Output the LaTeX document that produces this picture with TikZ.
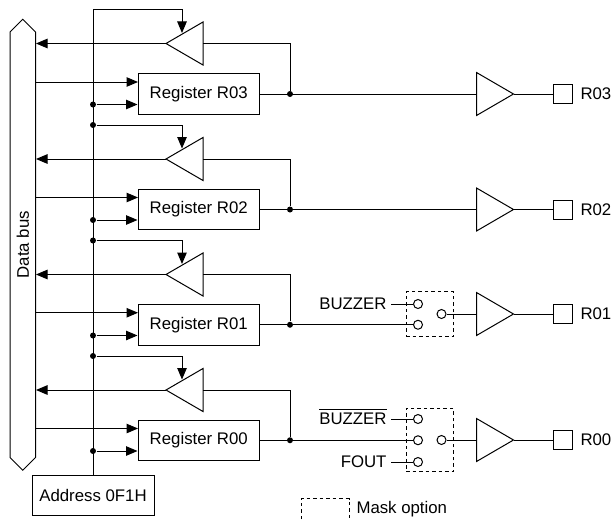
\documentclass[tikz,border=0pt]{standalone}
\usepackage{fontspec}
\setmainfont{Liberation Sans}
\usetikzlibrary{arrows.meta,shapes.geometric,shapes.symbols}
\begin{document}
\begin{tikzpicture}[x=1pt,y=-1pt,line width=1pt,>={Triangle[length=11.5pt,width=9.5pt]},
		every node/.style={font=\fontsize{16.8}{20}\selectfont},
		reg/.style={draw,minimum width=121.5pt,minimum height=40.5pt,inner sep=0pt},
		buf/.style={draw,isosceles triangle,isosceles triangle stretches,inner sep=0pt,outer sep=0pt,minimum width=43pt,minimum height=37pt},
		dot/.style={fill,circle,inner sep=0pt,minimum size=6pt},
		sw/.style={draw,circle,inner sep=0pt,minimum size=9pt},
		pad/.style={draw,inner sep=0pt,minimum size=19pt},
		lab/.style={inner ysep=0pt,inner xsep=4pt,anchor=east},
		txt/.style={inner sep=0pt,anchor=west},
		mask/.style={draw,dash pattern=on 3.5pt off 3pt,inner sep=0pt}]
	\useasboundingbox (0,0) rectangle (612,519);

	\node [draw,signal,signal to=east and west,signal pointer angle=90,rotate=90,minimum width=451pt,minimum height=25.5pt,inner sep=0pt] (bus) at (22.75,244.75) {Data bus};
	\node [draw,minimum width=122pt,minimum height=40.5pt,inner sep=0pt] (addr) at (93,495.25) {Address 0F1H};
	\coordinate (top) at (93,9.5);

	% registers
	\node [reg] (R3) at (198.75,94) {Register R03};
	\node [reg] (R2) at (198.75,209.5) {Register R02};
	\node [reg] (R1) at (198.75,324.75) {Register R01};
	\node [reg] (R0) at (198.75,440.25) {Register R00};

	% read buffers
	\node [buf,shape border rotate=180,anchor=apex] (B3) at (166,43.5) {};
	\node [buf,shape border rotate=180,anchor=apex] (B2) at (166,159) {};
	\node [buf,shape border rotate=180,anchor=apex] (B1) at (166,274.5) {};
	\node [buf,shape border rotate=180,anchor=apex] (B0) at (166,390) {};

	% output buffers
	\node [buf,anchor=apex] (Q3) at (513.5,94) {};
	\node [buf,anchor=apex] (Q2) at (513.5,209.5) {};
	\node [buf,anchor=apex] (Q1) at (513.5,314) {};
	\node [buf,anchor=apex] (Q0) at (513.5,440) {};

	% output pads
	\node [pad] (P3) at (562.5,94) {};
	\node [pad] (P2) at (562.5,209.5) {};
	\node [pad] (P1) at (562.5,314) {};
	\node [pad] (P0) at (562.5,440) {};
	\node [txt] (L3) at (580,94) {R03};
	\node [txt] (L2) at (580,209.5) {R02};
	\node [txt] (L1) at (580,314) {R01};
	\node [txt] (L0) at (580,440) {R00};

	% junctions
	\node [dot] (Wd3) at (93,104.5) {};
	\node [dot] (Wd2) at (93,220) {};
	\node [dot] (Wd1) at (93,335.5) {};
	\node [dot] (Wd0) at (93,451) {};
	\node [dot] (En2) at (93,125) {};
	\node [dot] (En1) at (93,240.5) {};
	\node [dot] (En0) at (93,356) {};
	\node [dot] (Out3) at (290,94) {};
	\node [dot] (Out2) at (290,209.5) {};
	\node [dot] (Out1) at (290,324.75) {};
	\node [dot] (Out0) at (290,440.25) {};

	% register and buffer pins
	\coordinate (Wr3) at (138,82);
	\coordinate (Wr2) at (138,197.5);
	\coordinate (Wr1) at (138,312.75);
	\coordinate (Wr0) at (138,428.5);
	\coordinate (Gt3) at (182,33);
	\coordinate (Gt2) at (182,148.5);
	\coordinate (Gt1) at (182,264);
	\coordinate (Gt0) at (182,379.5);

	% mask option switches
	\node [mask,minimum width=47pt,minimum height=45pt] (M1) at (429.5,314.25) {};
	\node [mask,minimum width=47pt,minimum height=63.5pt] (M0) at (429.5,440) {};
	\node [sw] (S1a) at (418,304) {};
	\node [sw] (S1b) at (418,324.75) {};
	\node [sw] (S1c) at (441.5,314) {};
	\node [sw] (S0a) at (418,419) {};
	\node [sw] (S0b) at (418,440.25) {};
	\node [sw] (S0d) at (418,462) {};
	\node [sw] (S0c) at (441.5,440) {};
	\node [lab] (Bz) at (391,304) {BUZZER};
	\node [lab,anchor=base east] (Bn) at (391,424.6) {$\overline{\mbox{BUZZER}\rule{0pt}{14.5pt}}$};
	\node [lab] (Fo) at (391,462) {FOUT};

	% key
	\draw [dash pattern=on 3.5pt off 3pt] (301,519) -- (301,498.7) -- (349,498.7) -- (349,519);
	\node [txt] (Key) at (356,509) {Mask option};

	\draw (top) -- (addr.north);
	\draw [->] (top) -| (Gt3);
	\draw [->] (En2) -| (Gt2);
	\draw [->] (En1) -| (Gt1);
	\draw [->] (En0) -| (Gt0);

	\path [->] (B3.apex) edge (bus.south |- B3.apex);
	\path [->] (B2.apex) edge (bus.south |- B2.apex);
	\path [->] (B1.apex) edge (bus.south |- B1.apex);
	\path [->] (B0.apex) edge (bus.south |- B0.apex);

	\path [->] (bus.south |- Wr3) edge (Wr3);
	\path [->] (bus.south |- Wr2) edge (Wr2);
	\path [->] (bus.south |- Wr1) edge (Wr1);
	\path [->] (bus.south |- Wr0) edge (Wr0);

	\path [->] (Wd3) edge (Wd3 -| R3.west);
	\path [->] (Wd2) edge (Wd2 -| R2.west);
	\path [->] (Wd1) edge (Wd1 -| R1.west);
	\path [->] (Wd0) edge (Wd0 -| R0.west);

	\draw (B3.lower side) -| (Out3);
	\draw (B2.lower side) -| (Out2);
	\draw (B1.lower side) -| (Out1);
	\draw (B0.lower side) -| (Out0);

	\draw (R3.east) -- (Q3.lower side);
	\draw (R2.east) -- (Q2.lower side);
	\draw (R1.east) -- (S1b.west);
	\draw (R0.east) -- (S0b.west);

	\draw (Bz.east) -- (S1a.west);
	\draw (Bn.east |- S0a) -- (S0a.west);
	\draw (Fo.east) -- (S0d.west);
	\draw (S1c.east) -- (Q1.lower side);
	\draw (S0c.east) -- (Q0.lower side);

	\draw (Q3.apex) -- (P3.west);
	\draw (Q2.apex) -- (P2.west);
	\draw (Q1.apex) -- (P1.west);
	\draw (Q0.apex) -- (P0.west);
\end{tikzpicture}
\end{document}
